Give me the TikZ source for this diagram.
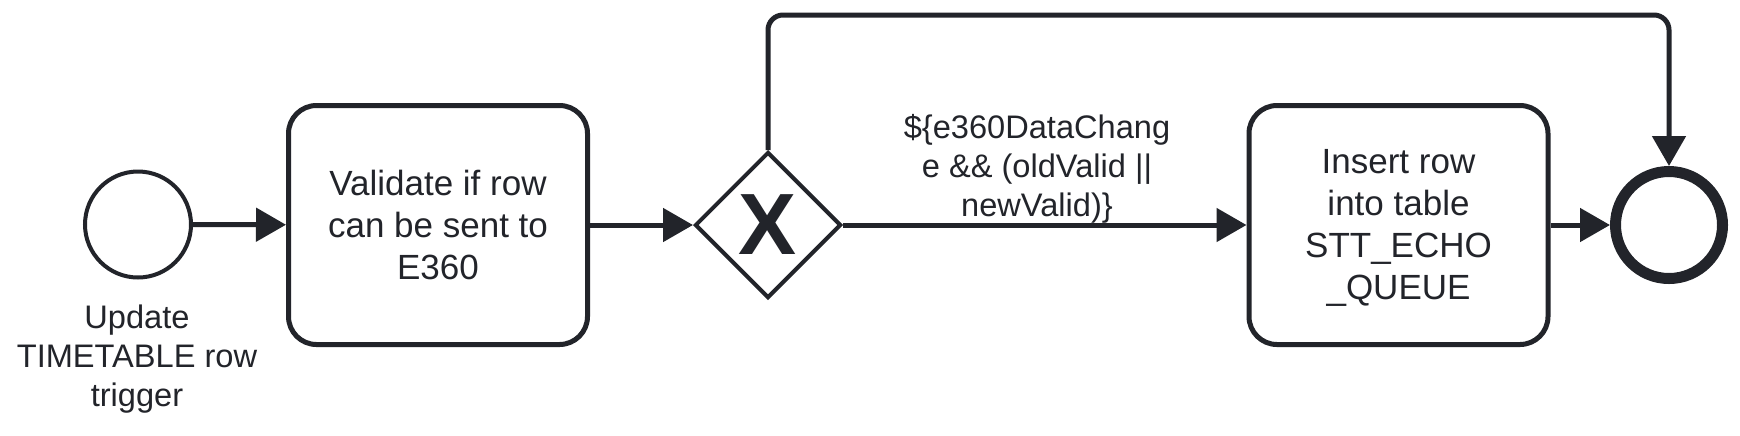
\documentclass[tikz,border=0pt]{standalone}
\usepackage{fontspec}
\setmainfont{Liberation Sans}
\usetikzlibrary{shapes.geometric,arrows.meta}
\definecolor{ink}{HTML}{22242A}
\begin{document}
\begin{tikzpicture}[x=0.5pt,y=-0.5pt,
  tasknode/.style={draw=ink, line width=2.5pt, rounded corners=14pt,
    minimum width=149.5pt, minimum height=119.5pt, inner sep=0pt,
    align=center, text=ink, font=\fontsize{17.5pt}{21pt}\selectfont},
  startev/.style={circle, draw=ink, line width=2pt, minimum size=53pt, inner sep=0pt},
  endev/.style={circle, draw=ink, line width=5.5pt, minimum size=53.5pt, inner sep=0pt},
  gateway/.style={diamond, draw=ink, line width=2pt, minimum width=73pt,
    minimum height=73pt, inner sep=0pt},
  gwmark/.style={text=ink, font=\fontsize{43.5pt}{43.5pt}\selectfont\bfseries, inner sep=0pt},
  lbl/.style={align=center, text=ink, font=\fontsize{16.3pt}{19.5pt}\selectfont, inner sep=0pt},
  flow/.style={draw=ink, line width=2.5pt, -{Triangle[length=15pt,width=16.5pt]}}
]
\useasboundingbox (0,0) rectangle (1740,435);
\fill[white] (0,0) rectangle (1740,435);

\node[startev] (start) at (138,224.5) {};
\node[lbl] (startlbl) at (137,359) {Update\\TIMETABLE row\\trigger};
\node[tasknode] (validate) at (438,225) {Validate if row\\can be sent to\\E360};
\node[gateway] (gw) at (768,225) {};
\node[gwmark] (gwx) at (gw.center) {X};
\node[tasknode] (insert) at (1398.5,225) {};
\node[lbl, font=\fontsize{17.5pt}{21pt}\selectfont] (inserttext) at (1398.5,228) {Insert row\\into table\\STT\_ECHO\\\_QUEUE};
\node[endev] (end) at (1669,225) {};
\node[lbl] (cond) at (1037,169) {\$\{e360DataChang\\e \&\& (oldValid ||\\newValid)\}};
\coordinate (topline) at (0,15);

\draw[flow] (start) -- (validate);
\draw[flow] (validate) -- (gw.west);
\draw[flow] (gw.east) -- (insert);
\draw[flow] (insert) -- (end);
\draw[flow, rounded corners=7.5pt] (gw.north) -- (gw.north |- topline) -- (end.north |- topline) -- (end.north);
\end{tikzpicture}
\end{document}
